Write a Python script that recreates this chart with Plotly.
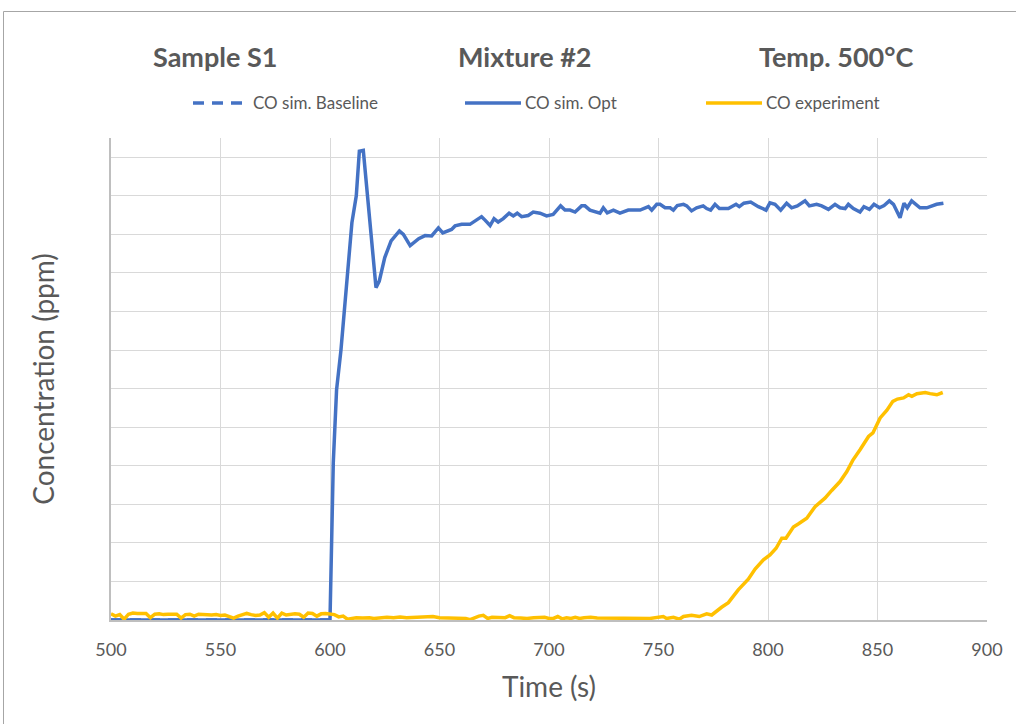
import plotly.graph_objects as go

# ---- data ----
opt_t = [500, 600, 601.5, 603.0, 605.0, 607.0, 610.0, 612.0, 613.4, 615.2, 621.0, 622.5, 625.0, 627.9,
         631.7, 633.5, 636.6, 640.5, 643.4, 646.4, 649.5, 651.5, 655.5, 657.1, 660.1, 663.9, 666.2,
         669.2, 670.8, 673.1, 674.9, 676.8, 679.1, 681.8, 683.7, 685.5, 687.5, 690.5, 692.8, 695.9,
         698.9, 701.9, 705.3, 707.3, 709.6, 711.9, 714.9, 716.4, 718.7, 723.3, 724.8, 726.6, 729.4,
         732.4, 736.2, 741.6, 745.4, 746.9, 749.2, 750.7, 753.0, 755.3, 756.8, 758.6, 761.4, 762.9,
         765.1, 767.4, 770.4, 772.0, 773.8, 775.8, 777.8, 781.9, 785.4, 786.9, 789.0, 792.1, 795.6,
         799.1, 800.9, 803.2, 805.8, 808.5, 810.8, 813.4, 816.9, 818.9, 822.2, 824.5, 827.6, 830.6,
         832.9, 835.2, 836.7, 839.0, 842.0, 843.8, 846.3, 848.4, 850.9, 853.0, 855.4, 857.3, 860.3,
         862.1, 863.6, 865.6, 869.4, 872.5, 877.0, 880.1]
opt_c = [0, 0, 4.08, 5.97, 7.0, 8.4, 10.3, 11.0, 12.16, 12.18, 8.62, 8.79, 9.4, 9.83,
         10.09, 10.0, 9.71, 9.89, 9.97, 9.96, 10.17, 10.04, 10.13, 10.22, 10.26, 10.26, 10.35,
         10.46, 10.37, 10.23, 10.41, 10.32, 10.41, 10.55, 10.48, 10.55, 10.46, 10.49, 10.58, 10.55,
         10.48, 10.52, 10.74, 10.63, 10.63, 10.58, 10.74, 10.74, 10.63, 10.55, 10.69, 10.56, 10.63,
         10.55, 10.63, 10.63, 10.72, 10.63, 10.78, 10.78, 10.69, 10.69, 10.63, 10.75, 10.78, 10.74,
         10.61, 10.69, 10.74, 10.67, 10.63, 10.78, 10.67, 10.67, 10.78, 10.72, 10.81, 10.84, 10.72,
         10.63, 10.82, 10.78, 10.63, 10.81, 10.69, 10.74, 10.87, 10.74, 10.78, 10.74, 10.65, 10.78,
         10.69, 10.67, 10.78, 10.67, 10.58, 10.72, 10.65, 10.78, 10.69, 10.75, 10.87, 10.78, 10.43,
         10.81, 10.69, 10.87, 10.69, 10.69, 10.78, 10.81]

base_t = [500, 600]
base_c = [0, 0]

exp_t = [500, 502, 504, 506, 508, 510, 512, 514, 516, 518, 520, 522, 524, 526, 528, 530, 532, 534,
         536, 538, 540, 542, 544, 546, 548, 550, 552, 554, 556, 558, 560, 562, 564, 566, 568, 570,
         572, 574, 576, 578, 580, 582, 584, 586, 588, 590, 592, 594, 596, 598, 600, 602, 604, 606,
         608, 610, 612, 615, 618, 620, 623, 626, 629, 632, 635, 638, 641, 644, 647, 650, 653, 656,
         659, 662, 664, 666, 668, 670, 672, 674, 677, 680, 682, 684, 687, 690, 693, 696, 698, 700,
         702, 704, 706, 708, 710, 712, 714, 716, 719, 722, 725, 728, 731, 734, 736, 738, 740, 743,
         746.1, 752.2, 753.7, 756.8, 759.5, 761.4, 765.1, 768.6, 772.0, 774.3, 776.5, 778.8, 781.9,
         784.2, 786.4, 791.0, 794.1, 797.9, 800.9, 803.7, 806.3, 808.2, 811.6, 813.8, 817.7, 821.5,
         826.0, 829.1, 832.9, 836.0, 838.7, 842.1, 845.9, 847.9, 851.2, 854.3, 857.0, 859.1, 861.9,
         864.2, 865.7, 868.0, 871.8, 874.0, 877.1, 879.8]
exp_c = [0.16, 0.10, 0.14, 0.02, 0.15, 0.18, 0.17, 0.18, 0.17, 0.06, 0.15, 0.16, 0.14, 0.15, 0.14,
         0.15, 0.05, 0.14, 0.15, 0.10, 0.15, 0.14, 0.15, 0.13, 0.14, 0.12, 0.13, 0.10, 0.05, 0.10,
         0.14, 0.17, 0.14, 0.12, 0.13, 0.19, 0.07, 0.18, 0.05, 0.18, 0.13, 0.15, 0.16, 0.15, 0.07,
         0.18, 0.17, 0.10, 0.16, 0.17, 0.15, 0.14, 0.08, 0.10, 0.02, 0.03, 0.06, 0.05, 0.06, 0.04,
         0.06, 0.07, 0.06, 0.08, 0.06, 0.07, 0.08, 0.07, 0.09, 0.06, 0.05, 0.06, 0.05, 0.04, 0.01,
         0.06, 0.10, 0.12, 0.04, 0.07, 0.07, 0.06, 0.11, 0.06, 0.05, 0.04, 0.06, 0.06, 0.07, 0.04,
         0.04, 0.09, 0.03, 0.06, 0.04, 0.07, 0.04, 0.06, 0.07, 0.05, 0.05, 0.04, 0.05, 0.06, 0.04,
         0.06, 0.04, 0.05,
         0.04, 0.09, 0.04, 0.07, 0.02, 0.09, 0.12, 0.09, 0.16, 0.13, 0.24, 0.33, 0.45, 0.62, 0.78,
         1.06, 1.32, 1.56, 1.69, 1.86, 2.12, 2.12, 2.41, 2.49, 2.64, 2.94, 3.16, 3.36, 3.59, 3.85,
         4.14, 4.42, 4.76, 4.85, 5.24, 5.44, 5.67, 5.73, 5.76, 5.84, 5.80, 5.87, 5.90, 5.87, 5.84,
         5.90]

header_labels = ["Sample S1", "Mixture #2", "Temp. 500°C"]
header_x = [215, 525, 836]          # pixel centres of header texts
series_names = ["CO sim. Baseline", "CO sim. Opt", "CO experiment"]
legend_x = [193, 465, 706]          # pixel start of legend symbols

BLUE = "#4472C4"
GOLD = "#FFC000"
TXT = "#595959"
FONT = "Lato, Open Sans, sans-serif"

W, H = 1016, 724
L, R, T, B = 111, 29, 138, 104
pw, ph = W - L - R, H - T - B


def px2x(px):
    return (px - L) / pw


def py2y(py):
    return (H - B - py) / ph


styles = [dict(color=BLUE, width=3.5, dash="11px,8px"), dict(color=BLUE, width=3.5),
          dict(color=GOLD, width=3.5)]

fig = go.Figure()
for name, tx, cy, st in zip(series_names, [base_t, opt_t, exp_t], [base_c, opt_c, exp_c], styles):
    fig.add_trace(go.Scatter(x=tx, y=cy, mode="lines", name=name, line=st, showlegend=False))

annotations = []
for lab, cx in zip(header_labels, header_x):
    annotations.append(dict(text=f"<b>{lab}</b>", x=px2x(cx), y=py2y(57), xref="paper", yref="paper",
                            showarrow=False, xanchor="center", yanchor="middle",
                            font=dict(size=27, color=TXT, family=FONT)))

shapes = [dict(type="rect", xref="paper", yref="paper", x0=px2x(3.5), x1=px2x(1030),
               y0=py2y(740), y1=py2y(11.5), line=dict(color="#A6A6A6", width=1),
               fillcolor="rgba(0,0,0,0)", layer="below")]

# legend drawn as line samples + text
for name, lx, st in zip(series_names, legend_x, styles):
    shapes.append(dict(type="line", xref="paper", yref="paper", x0=px2x(lx), x1=px2x(lx + 56),
                       y0=py2y(103), y1=py2y(103),
                       line=dict(color=st["color"], width=3.5, dash=st.get("dash", "solid"))))
    annotations.append(dict(text=name, x=px2x(lx + 58), y=py2y(102), xref="paper", yref="paper",
                            showarrow=False, xanchor="left", yanchor="middle",
                            font=dict(size=17, color=TXT, family=FONT)))

fig.update_layout(
    width=W, height=H,
    margin=dict(l=L, r=R, t=T, b=B),
    paper_bgcolor="white", plot_bgcolor="white",
    font=dict(family=FONT, color=TXT),
    showlegend=False,
    annotations=annotations,
    shapes=shapes,
    xaxis=dict(range=[500, 900], dtick=50, tick0=500, showgrid=True, gridcolor="#D9D9D9", gridwidth=1,
               zeroline=False, showline=True, linecolor="#BFBFBF", linewidth=1.5, ticks="",
               tickfont=dict(size=18, color=TXT), ticklabelstandoff=13,
               title=dict(text="Time (s)", font=dict(size=28, color=TXT), standoff=18)),
    yaxis=dict(range=[0, 12.5], dtick=1, tick0=0, showgrid=True, gridcolor="#D9D9D9", gridwidth=1,
               zeroline=False, showline=True, linecolor="#BFBFBF", linewidth=1.5, ticks="",
               showticklabels=False,
               title=dict(text="Concentration (ppm)", font=dict(size=28, color=TXT), standoff=46)),
)

fig.write_html("out.html")
